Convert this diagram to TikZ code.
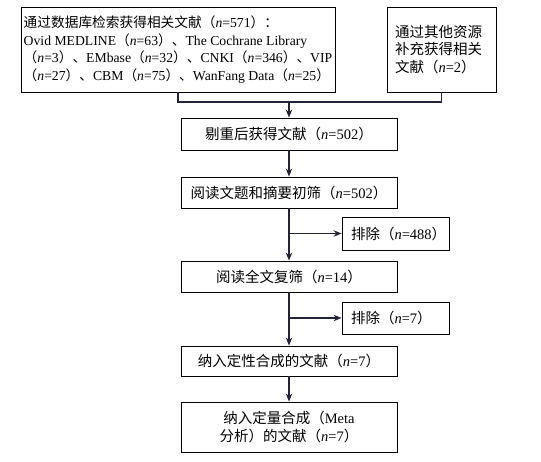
\documentclass[tikz,border=0pt]{standalone}
\usepackage{fontspec}
\setmainfont{Liberation Serif}
\newfontfamily\cjk{Noto Sans CJK SC}
\usetikzlibrary{arrows.meta}
\newcommand\zh[1]{{\cjk #1}}
\newcommand\nn{\textit{n}}
\definecolor{lineclr}{HTML}{22223A}
\tikzset{
  box/.style={draw=black, line width=0.9pt, minimum width=216pt, minimum height=32pt, align=center, inner sep=2pt},
  exbox/.style={draw=black, line width=0.9pt, minimum width=107pt, minimum height=33pt, text width=89pt, align=left, inner xsep=9pt, inner ysep=2pt},
  conn/.style={draw=lineclr, line width=1.1pt},
  arr/.style={conn, -{Stealth[length=8pt,width=6.5pt]}}
}
\begin{document}
\begin{tikzpicture}[x=1pt,y=-1pt, font=\fontsize{14.5}{17.6}\selectfont]
\useasboundingbox (0,0) rectangle (541,462);
\node[draw=black, line width=0.9pt, minimum width=314pt, minimum height=85pt, align=left, inner xsep=2pt, inner ysep=0pt, font=\fontsize{13.7}{17.6}\selectfont] (src) at (178,49.5)
 {\zh{通过数据库检索获得相关文献（}\nn=571\zh{）：}\\
  Ovid MEDLINE\zh{（}\nn=63\zh{）、}The Cochrane Library\\
  \zh{（}\nn=3\zh{）、}EMbase\zh{（}\nn=32\zh{）、}CNKI\zh{（}\nn=346\zh{）、}VIP\\
  \zh{（}\nn=27\zh{）、}CBM\zh{（}\nn=75\zh{）、}WanFang Data\zh{（}\nn=25\zh{）}};
\node[draw=black, line width=0.9pt, minimum width=109pt, minimum height=85pt, text width=93pt, align=left, inner xsep=8pt, inner ysep=0pt] (oth) at (441.5,49.5)
 {\zh{通过其他资源}\\ \zh{补充获得相关}\\ \zh{文献（}\nn=2\zh{）}};
\node[box] (b2) at (289,134) {\zh{剔重后获得文献（}\nn=502\zh{）}};
\node[box, minimum height=31pt] (b3) at (289,192.5) {\zh{阅读文题和摘要初筛（}\nn=502\zh{）}};
\node[exbox] (e1) at (395.5,233.5) {\zh{排除（}\nn=488\zh{）}};
\node[box, minimum height=31pt] (b4) at (289,276.5) {\zh{阅读全文复筛（}\nn=14\zh{）}};
\node[exbox, minimum height=32pt] (e2) at (395.5,318) {\zh{排除（}\nn=7\zh{）}};
\node[box, minimum height=30pt] (b5) at (289,361) {\zh{纳入定性合成的文献（}\nn=7\zh{）}};
\node[box, minimum height=50pt] (b6) at (289,427) {\zh{纳入定量合成（}Meta\\ \zh{分析）的文献（}\nn=7\zh{）}};
\coordinate (j) at (289,102);
\draw[conn] (src.south) |- (j) -| (oth.south);
\draw[arr] (j) -- (b2.north);
\draw[arr] (b2) -- (b3);
\draw[arr] (b3) -- (b4);
\draw[arr] (b3.south |- e1.west) -- (e1.west);
\draw[arr] (b4) -- (b5);
\draw[arr] (b4.south |- e2.west) -- (e2.west);
\draw[arr] (b5) -- (b6);
\end{tikzpicture}
\end{document}
